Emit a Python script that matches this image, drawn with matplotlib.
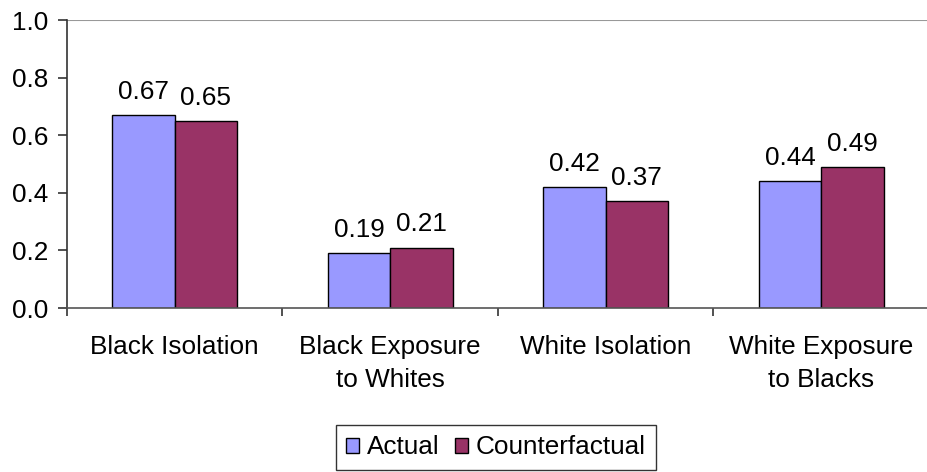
import matplotlib
matplotlib.use("Agg")
import matplotlib.pyplot as plt
from matplotlib.ticker import FixedLocator
import numpy as np

categories = ["Black Isolation", "Black Exposure\nto Whites", "White Isolation", "White Exposure\nto Blacks"]
actual = [0.67, 0.19, 0.42, 0.44]
counterfactual = [0.65, 0.21, 0.37, 0.49]
series_names = ["Actual", "Counterfactual"]
yticks = [0.0, 0.2, 0.4, 0.6, 0.8, 1.0]

plt.rcParams['font.family'] = ['Liberation Sans', 'DejaVu Sans']
FS = 18.8

fig = plt.figure(figsize=(9.27, 4.72), dpi=100)
ax = fig.add_axes([67/927, 1-308/472, 1 - 67/927 + 0.002, (308-20)/472])

x = np.arange(len(categories))
w = 0.29
b1 = ax.bar(x - w/2, actual, w, color="#9999FF", edgecolor="black", linewidth=1.0, label=series_names[0])
b2 = ax.bar(x + w/2, counterfactual, w, color="#993366", edgecolor="black", linewidth=1.0, label=series_names[1])

for bars, vals in ((b1, actual), (b2, counterfactual)):
    for rect, v in zip(bars, vals):
        ax.annotate(f"{v:.2f}", (rect.get_x() + rect.get_width()/2, v),
                    xytext=(0, 8), textcoords="offset points",
                    ha="center", va="bottom", fontsize=FS)

ax.set_xlim(-0.5, len(categories) - 0.5)
ax.set_ylim(0, 1.0)
ax.set_yticks(yticks)
ax.set_yticklabels([f"{t:.1f}" for t in yticks], fontsize=FS)
ax.set_xticks(x)
ax.set_xticklabels(categories, fontsize=FS, linespacing=1.45)
ax.xaxis.set_minor_locator(FixedLocator(np.arange(-0.5, len(categories), 1.0)))
ax.tick_params(axis="x", which="major", length=0, pad=19.5)
ax.tick_params(axis="x", which="minor", length=6, width=1.2, color="#333333")
ax.tick_params(axis="y", length=6.5, width=1.2, color="#333333", pad=7)

ax.axhline(1.0, color="#999999", linewidth=1.5, zorder=0)
for s in ("top", "right"):
    ax.spines[s].set_visible(False)
ax.spines["left"].set_color("#333333")
ax.spines["left"].set_linewidth(1.2)
ax.spines["bottom"].set_color("#555555")
ax.spines["bottom"].set_linewidth(1.2)

leg = fig.legend(loc="upper center", bbox_to_anchor=(496/927, 1 - 425/472), ncol=2,
                 fontsize=FS, frameon=True, fancybox=False, edgecolor="black",
                 handlelength=0.5, handleheight=0.5, handletextpad=0.3,
                 columnspacing=0.6, borderpad=0.4, borderaxespad=0)
leg.get_frame().set_linewidth(1.0)

fig.savefig("out.png", dpi=100)
